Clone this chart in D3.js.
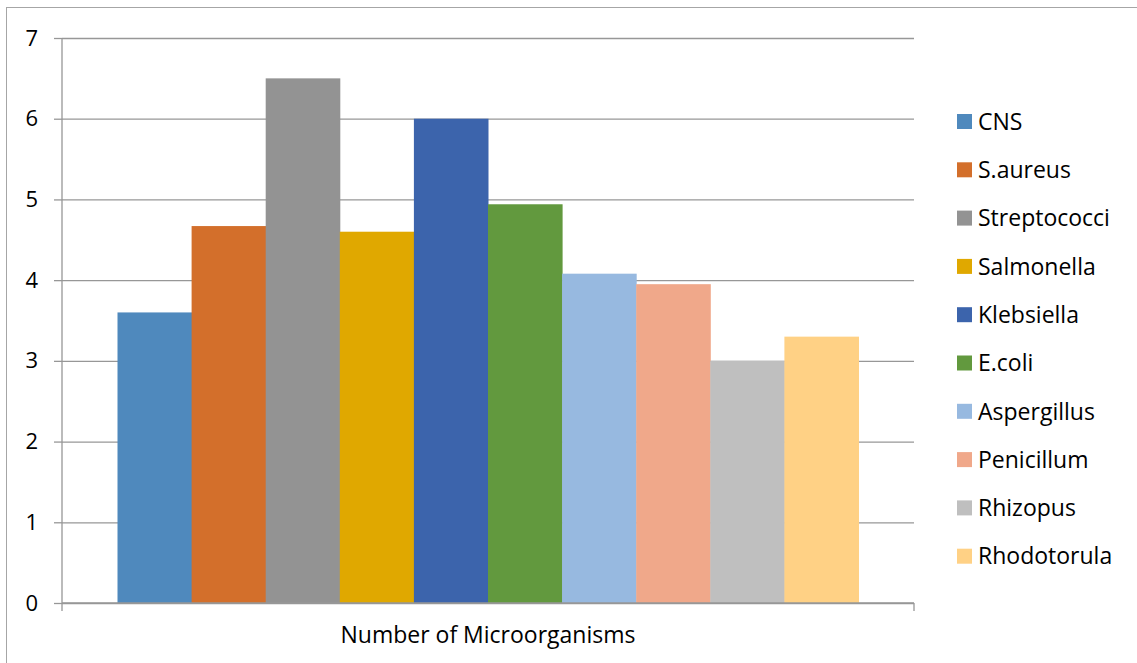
<!DOCTYPE html>
<html>
<head>
<meta charset="utf-8">
<script src="https://cdn.jsdelivr.net/npm/d3@7"></script>
<style>
  html, body { margin: 0; padding: 0; background: #fff; }
  svg { display: block; font-family: "Open Sans", "Liberation Sans", sans-serif; }
</style>
</head>
<body>
<svg id="chart" width="1137" height="663"></svg>
<script>
// Microorganism counts per organism
const categories = ["Number of Microorganisms"];
const seriesNames = ["CNS", "S.aureus", "Streptococci", "Salmonella", "Klebsiella",
                     "E.coli", "Aspergillus", "Penicillum", "Rhizopus", "Rhodotorula"];
const seriesValues = [3.6, 4.67, 6.5, 4.6, 6.0, 4.94, 4.08, 3.95, 3.0, 3.3];
const seriesColors = ["#4f89bd", "#d36f2b", "#939393", "#e0a800", "#3c64ac",
                      "#62993e", "#97b9e0", "#f0a88a", "#bfbfbf", "#ffd185"];
const yTicks = [0, 1, 2, 3, 4, 5, 6, 7];

const svg = d3.select("#chart");

// Chart frame
svg.append("rect")
  .attr("x", 6.5).attr("y", 7.5)
  .attr("width", 1140).attr("height", 670)
  .attr("fill", "none").attr("stroke", "#a6a6a6").attr("stroke-width", 1);

const plot = { left: 62, right: 914, top: 38, bottom: 603 };

const y = d3.scaleLinear().domain([0, 7]).range([plot.bottom, plot.top]);
const x0 = d3.scaleBand().domain(categories)
  .range([plot.left, plot.right]).paddingInner(0).paddingOuter(0.0749);
const x1 = d3.scaleBand().domain(seriesNames).range([0, x0.bandwidth()]);

// Horizontal gridlines
const grid = svg.append("g")
  .attr("transform", `translate(${plot.left},0)`)
  .call(d3.axisLeft(y).tickValues(yTicks).tickSize(-(plot.right - plot.left)).tickFormat(""));
grid.select(".domain").remove();
grid.selectAll("line").attr("stroke", "#979797").attr("stroke-width", 1.3);

// Bars
const data = seriesNames.map((n, i) => ({ name: n, value: seriesValues[i], color: seriesColors[i] }));
svg.append("g")
  .selectAll("rect")
  .data(data)
  .join("rect")
  .attr("x", d => x0(categories[0]) + x1(d.name))
  .attr("y", d => y(d.value))
  .attr("width", x1.bandwidth() + 0.5)
  .attr("height", d => y(0) - y(d.value))
  .attr("fill", d => d.color);

// Y axis
const yAxis = svg.append("g")
  .attr("transform", `translate(${plot.left},0)`)
  .call(d3.axisLeft(y).tickValues(yTicks).tickSize(8).tickPadding(16).tickFormat(d3.format("d")));
yAxis.select(".domain").attr("stroke", "#979797").attr("stroke-width", 1.3)
  .attr("d", `M0,${plot.top}V${plot.bottom}`);
yAxis.selectAll(".tick line").attr("stroke", "#979797").attr("stroke-width", 1.3);
yAxis.selectAll(".tick text")
  .attr("font-size", 22).attr("fill", "#000")
  .attr("font-family", "'Open Sans', sans-serif");

// X axis with category boundary ticks
const xAxisG = svg.append("g").attr("transform", `translate(0,${plot.bottom})`);
xAxisG.append("line")
  .attr("x1", plot.left).attr("x2", plot.right)
  .attr("stroke", "#979797").attr("stroke-width", 1.3);
xAxisG.selectAll(".bt")
  .data([plot.left, plot.right])
  .join("line")
  .attr("x1", d => d).attr("x2", d => d)
  .attr("y1", 0).attr("y2", 8)
  .attr("stroke", "#979797").attr("stroke-width", 1.3);
xAxisG.append("text")
  .attr("x", x0(categories[0]) + x0.bandwidth() / 2)
  .attr("y", 40)
  .attr("text-anchor", "middle")
  .attr("font-size", 23)
  .attr("fill", "#000")
  .text(categories[0]);

// Legend
const legend = svg.append("g");
const item = legend.selectAll("g")
  .data(data)
  .join("g")
  .attr("transform", (d, i) => `translate(957,${121.5 + i * 48.3})`);
item.append("rect")
  .attr("x", 0).attr("y", -7.5)
  .attr("width", 15).attr("height", 15)
  .attr("fill", d => d.color);
item.append("text")
  .attr("x", 21).attr("y", 0)
  .attr("dy", "0.36em")
  .attr("font-size", 23)
  .attr("fill", "#000")
  .text(d => d.name);
</script>
</body>
</html>
